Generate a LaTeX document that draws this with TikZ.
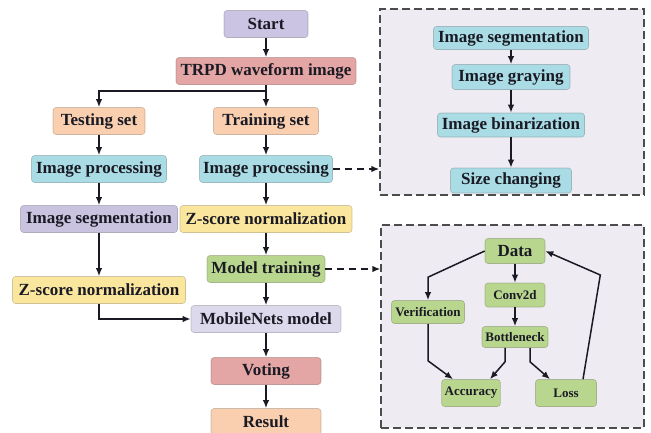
\documentclass[tikz,border=0pt]{standalone}
\usepackage{fontspec}
\setmainfont{Liberation Serif}
\usepackage{xcolor}
\usetikzlibrary{arrows.meta, positioning, calc}

\definecolor{startc}{HTML}{CCC4E3}
\definecolor{rosec}{HTML}{E4A6A4}
\definecolor{peachc}{HTML}{F9CFAF}
\definecolor{bluec}{HTML}{A9DCE4}
\definecolor{segc}{HTML}{C9C3E0}
\definecolor{yellowc}{HTML}{FBE69E}
\definecolor{greenc}{HTML}{B9D68F}
\definecolor{mobc}{HTML}{DDD9EC}
\definecolor{framec}{HTML}{EFEBF2}
\definecolor{inkc}{HTML}{1A1A24}

\begin{document}
\begin{tikzpicture}[
    x=1pt, y=-1pt,
    box/.style={rounded corners=3pt, minimum height=27pt, inner xsep=3pt, inner ysep=2pt, align=center, text=inkc, line width=0.6pt, draw opacity=0.45, font=\bfseries\fontsize{17}{19}\selectfont},
    small/.style={box, font=\bfseries\fontsize{13}{15}\selectfont},
    startbox/.style={box, fill=startc, draw=startc!60!black},
    rosebox/.style={box, fill=rosec, draw=rosec!60!black},
    setbox/.style={box, fill=peachc, draw=peachc!60!black},
    procbox/.style={box, fill=bluec, draw=bluec!60!black},
    segbox/.style={box, fill=segc, draw=segc!60!black},
    zbox/.style={box, fill=yellowc, draw=yellowc!60!black},
    trainbox/.style={box, fill=greenc, draw=greenc!60!black},
    mobbox/.style={box, fill=mobc, draw=mobc!60!black},
    frame/.style={draw=black!70, dash pattern=on 8pt off 4pt, line width=1.3pt, fill=framec},
    arrow/.style={-{Latex[length=8pt,width=6.5pt]}, line width=1.5pt, draw=inkc},
    dasharrow/.style={arrow, dash pattern=on 7pt off 5pt},
]
\useasboundingbox (0,0) rectangle (651,432);

% Dashed frames (drawn first, behind their boxes)
\node[frame, minimum width=264pt, minimum height=186pt] (prepframe) at (512,102) {};
\node[frame, minimum width=263pt, minimum height=203pt] (netframe) at (512.5,326.5) {};

% Main column
\node[startbox, minimum width=84pt] (start) at (266,24) {Start};
\node[rosebox, minimum width=180pt] (trpd) at (266,71) {TRPD waveform image};
\coordinate (split) at ($(trpd.south)+(0,6)$);

% Training branch
\node[setbox, minimum width=105pt] (trainset) at (266,121) {Training set};
\node[procbox, minimum width=133pt] (procR) at (266,169) {Image processing};
\node[zbox, minimum width=172pt] (zscoreR) at (266,219) {Z-score normalization};
\node[trainbox, minimum width=118pt] (modeltrain) at (266,269) {Model training};
\node[mobbox, minimum width=150pt] (mobilenet) at (266,319) {MobileNets model};
\node[rosebox, minimum width=110pt] (voting) at (266,371) {Voting};
\node[setbox, minimum width=110pt] (result) at (266,422) {Result};

% Testing branch
\node[setbox, minimum width=92pt] (testset) at (99,121) {Testing set};
\node[procbox, minimum width=135pt] (procL) at (99,169) {Image processing};
\node[segbox, minimum width=157pt] (segL) at (99,219) {Image segmentation};
\node[zbox, minimum width=173pt] (zscoreL) at (99,290) {Z-score normalization};

% Image processing steps
\node[procbox, minimum width=155pt, minimum height=23pt] (seg) at (511,38) {Image segmentation};
\node[procbox, minimum width=118pt, minimum height=25pt] (gray) at (511,77) {Image graying};
\node[procbox, minimum width=147pt, minimum height=24pt] (binar) at (511,125) {Image binarization};
\node[procbox, minimum width=121pt, minimum height=25pt] (resize) at (511,180.5) {Size changing};

% Training loop
\node[trainbox, minimum width=60pt, minimum height=25pt] (data) at (515,251) {Data};
\node[small, fill=greenc, draw=greenc!60!black, minimum width=60pt, minimum height=24pt] (conv) at (515,295) {Conv2d};
\node[small, fill=greenc, draw=greenc!60!black, minimum width=73pt, minimum height=23pt] (verif) at (428,312) {Verification};
\node[small, fill=greenc, draw=greenc!60!black, minimum width=66pt, minimum height=21pt] (bneck) at (515,337) {Bottleneck};
\node[small, fill=greenc, draw=greenc!60!black, minimum width=57pt] (acc) at (471,393) {Accuracy};
\node[small, fill=greenc, draw=greenc!60!black, minimum width=61pt] (loss) at (566,393) {Loss};

% --- Arrows ---
\draw[arrow] (start) -- (trpd);
\draw[arrow] (trpd) -- (trainset);
\draw[arrow] (split) -| (testset);

\draw[arrow] (trainset) -- (procR);
\draw[arrow] (procR) -- (zscoreR);
\draw[arrow] (zscoreR) -- (modeltrain);
\draw[arrow] (modeltrain) -- (mobilenet);
\draw[arrow] (mobilenet) -- (voting);
\draw[arrow] (voting) -- (result);

\draw[arrow] (testset) -- (procL);
\draw[arrow] (procL) -- (segL);
\draw[arrow] (segL) -- (zscoreL);
\draw[arrow] (zscoreL) |- (mobilenet);

% Links to the detail frames
\draw[dasharrow] (procR.east) -- (procR.east -| prepframe.west);
\draw[dasharrow] (modeltrain.east) -- (modeltrain.east -| netframe.west);

% Preprocessing chain
\draw[arrow] (seg) -- (gray);
\draw[arrow] (gray) -- (binar);
\draw[arrow] (binar) -- (resize);

% Network loop
\draw[arrow] (data) -- (conv);
\draw[arrow] (conv) -- (bneck);
\draw[arrow] (data.west) -- ($(verif.north)+(0,-23)$) -- (verif.north);
\draw[arrow] (verif.south) -- ++(0,37) -- ([xshift=-18pt]acc.north);
\draw[arrow] ([xshift=-10pt]bneck.south) -- ++(0,14) -- ([xshift=19pt]acc.north);
\draw[arrow] ([xshift=15pt]bneck.south) -- ++(0,14) -- ([xshift=-16pt]loss.north);
\draw[arrow] ([xshift=17pt]loss.north) -- ($(data.east)+(55,24)$) -- (data.east);

\end{tikzpicture}
\end{document}
